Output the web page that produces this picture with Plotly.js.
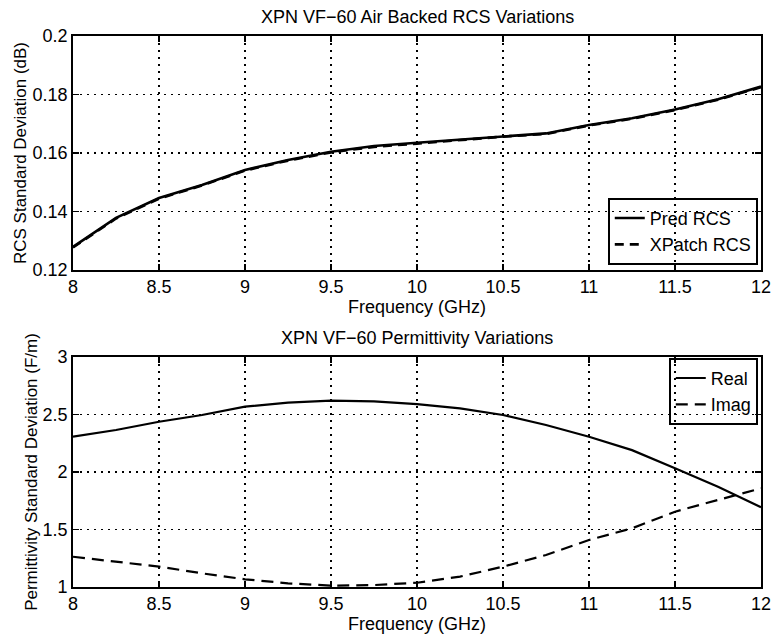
<!DOCTYPE html>
<html>
<head>
<meta charset="utf-8">
<script src="https://cdn.plot.ly/plotly-3.0.1.min.js"></script>
<style>html,body{margin:0;padding:0;background:#fff}#chart{width:775px;height:638px}</style>
</head>
<body>
<div id="chart"></div>
<script>
// Frequency grid (GHz)
const freq = [8, 8.25, 8.5, 8.75, 9, 9.25, 9.5, 9.75, 10, 10.25, 10.5, 10.75, 11, 11.25, 11.5, 11.75, 12];

// Top panel: RCS standard deviation (dB)
const predRCS   = [0.1279, 0.1378, 0.1446, 0.1491, 0.1542, 0.1576, 0.1604, 0.1624, 0.1635, 0.1646, 0.1658, 0.1667, 0.1696, 0.1719, 0.1749, 0.1784, 0.1827];
const xpatchRCS = [0.1277, 0.1376, 0.1444, 0.1489, 0.1540, 0.1574, 0.1602, 0.1621, 0.1632, 0.1644, 0.1656, 0.1665, 0.1694, 0.1717, 0.1747, 0.1782, 0.1825];

// Bottom panel: permittivity standard deviation (F/m)
const realPerm = [2.307, 2.365, 2.437, 2.496, 2.568, 2.603, 2.620, 2.614, 2.590, 2.554, 2.496, 2.409, 2.307, 2.190, 2.032, 1.872, 1.693];
const imagPerm = [1.263, 1.220, 1.177, 1.119, 1.067, 1.032, 1.012, 1.017, 1.037, 1.090, 1.177, 1.278, 1.409, 1.510, 1.655, 1.757, 1.858];

const xTicks = [8, 8.5, 9, 9.5, 10, 10.5, 11, 11.5, 12];
const xTickText = ['8', '8.5', '9', '9.5', '10', '10.5', '11', '11.5', '12'];
const topYTicks = [0.12, 0.14, 0.16, 0.18, 0.2];
const topYTickText = ['0.12', '0.14', '0.16', '0.18', '0.2'];
const botYTicks = [1, 1.5, 2, 2.5, 3];
const botYTickText = ['1', '1.5', '2', '2.5', '3'];

const FONT = 'Liberation Sans, Arial, Helvetica, sans-serif';
const FS = 18;

const traces = [
  {x: freq, y: predRCS, name: 'Pred RCS', type: 'scatter', mode: 'lines',
   line: {color: '#000', width: 2.6}, xaxis: 'x', yaxis: 'y', legend: 'legend'},
  {x: freq, y: xpatchRCS, name: 'XPatch RCS', type: 'scatter', mode: 'lines',
   line: {color: '#000', width: 2.6, dash: '9px,6px'}, xaxis: 'x', yaxis: 'y', legend: 'legend'},
  {x: freq, y: realPerm, name: 'Real', type: 'scatter', mode: 'lines',
   line: {color: '#000', width: 2.2}, xaxis: 'x2', yaxis: 'y2', legend: 'legend2'},
  {x: freq, y: imagPerm, name: 'Imag', type: 'scatter', mode: 'lines',
   line: {color: '#000', width: 2.2, dash: '12px,7px'}, xaxis: 'x2', yaxis: 'y2', legend: 'legend2'}
];

function xAxis(anchor) {
  return {
    anchor: anchor, domain: [0, 1], range: [8, 12],
    tickmode: 'array', tickvals: xTicks, ticktext: xTickText,
    ticks: 'inside', ticklen: 6, tickwidth: 1.2, tickcolor: '#000',
    showline: true, linecolor: '#000', linewidth: 1.8, mirror: 'ticks',
    showgrid: true, gridcolor: '#000', gridwidth: 1.5, griddash: '1.5px,5.5px',
    zeroline: false,
    tickfont: {family: FONT, size: FS, color: '#000'},
    title: {text: 'Frequency (GHz)', font: {family: FONT, size: FS, color: '#000'}, standoff: 0}
  };
}
function yAxis(anchor, domain, range, vals, text, title, standoff) {
  return {
    anchor: anchor, domain: domain, range: range,
    tickmode: 'array', tickvals: vals, ticktext: text,
    ticks: 'inside', ticklen: 6, tickwidth: 1.2, tickcolor: '#000',
    showline: true, linecolor: '#000', linewidth: 1.8, mirror: 'ticks',
    showgrid: true, gridcolor: '#000', gridwidth: 1.5, griddash: '1.5px,5.5px',
    zeroline: false,
    tickfont: {family: FONT, size: FS, color: '#000'},
    title: {text: title, font: {family: FONT, size: 17, color: '#000'}, standoff: standoff}
  };
}

const layout = {
  width: 775, height: 638,
  margin: {l: 73, r: 14, t: 36, b: 51},
  paper_bgcolor: '#fff', plot_bgcolor: '#fff',
  font: {family: FONT, color: '#000'},
  xaxis: xAxis('y'),
  yaxis: yAxis('x', [0.5753, 1], [0.12, 0.2], topYTicks, topYTickText, 'RCS Standard Deviation (dB)', 1),
  xaxis2: xAxis('y2'),
  yaxis2: yAxis('x2', [0, 0.4174], [1, 3], botYTicks, botYTickText, 'Permittivity Standard Deviation (F/m)', 1),
  legend: {
    x: 0.9956, y: 0.5844, xanchor: 'right', yanchor: 'bottom',
    bgcolor: 'rgba(0,0,0,0)', bordercolor: '#000', borderwidth: 1.8,
    font: {family: FONT, size: FS, color: '#000'}, tracegroupgap: 0, itemwidth: 30
  },
  legend2: {
    x: 0.9956, y: 0.4156, xanchor: 'right', yanchor: 'top',
    bgcolor: 'rgba(0,0,0,0)', bordercolor: '#000', borderwidth: 1.8,
    font: {family: FONT, size: FS, color: '#000'}, tracegroupgap: 0, itemwidth: 30
  },
  showlegend: true,
  annotations: [
    {text: 'XPN VF\u221260 Air Backed RCS Variations', xref: 'paper', yref: 'paper',
     x: 0.5, y: 1, xanchor: 'center', yanchor: 'bottom', yshift: 7, showarrow: false,
     font: {family: FONT, size: FS, color: '#000'}},
    {text: 'XPN VF\u221260 Permittivity Variations', xref: 'paper', yref: 'paper',
     x: 0.5, y: 0.4174, xanchor: 'center', yanchor: 'bottom', yshift: 7, showarrow: false,
     font: {family: FONT, size: FS, color: '#000'}}
  ]
};

Plotly.newPlot('chart', traces, layout, {displayModeBar: false, staticPlot: true});
</script>
</body>
</html>
